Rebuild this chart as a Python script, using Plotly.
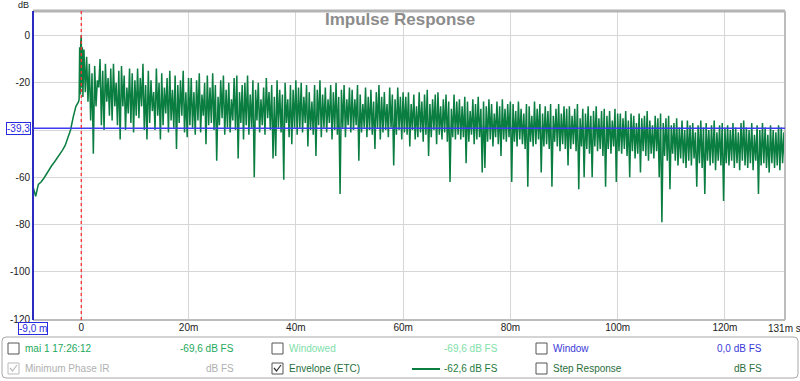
import numpy as np
import plotly.graph_objects as go

# ---------------- data ----------------
# pre-impulse rise, t = -9.0 ... -0.5 ms, step 0.5 ms
pre_vals = [-64, -68, -63, -62, -60.5, -58.5, -57, -55, -53.5, -52, -50.5, -48.5,
            -46.5, -43.5, -40, -34.5, -30, -28]
# impulse peak, fine time resolution
peak_times = [-0.4, -0.3, -0.2, -0.1, 0.0, 0.1, 0.2, 0.3, 0.4]
peak_vals = [-27, -5, -25, -3, 0, -22, -5, -26, -8]

# decay: local maxima at t = 0.5, 1.0, ... 131.0 ms
hi_vals = [
    # 0.5 - 10.0
    -6, -9, -12, -16, -13, -19, -10, -15, -12, -18, -14, -12, -20, -15, -13, -17, -22, -14, -16, -19,
    # 10.5 - 20.0
    -14, -18, -12, -21, -15, -19, -24, -14, -20, -16, -22, -18, -15, -23, -17, -21, -19, -15, -24, -18,
    # 20.5 - 30.0
    -18, -24, -19, -16, -25, -20, -17, -22, -16, -21, -26, -19, -17, -23, -20, -27, -18, -17, -24, -21,
    # 30.5 - 40.0
    -20, -17, -25, -19, -23, -20, -27, -22, -18, -24, -21, -26, -19, -23, -25, -20, -27, -21, -23, -19,
    # 40.5 - 50.0
    -22, -20, -26, -21, -24, -28, -21, -23, -19, -25, -22, -27, -21, -24, -20, -26, -23, -21, -27, -22,
    # 50.5 - 60.0
    -23, -27, -21, -25, -29, -22, -26, -23, -28, -24, -21, -26, -24, -29, -22, -25, -27, -22, -26, -24,
    # 60.5 - 70.0
    -26, -24, -29, -25, -30, -24, -28, -25, -23, -29, -27, -25, -24, -30, -27, -25, -28, -31, -25, -28,
    # 70.5 - 80.0
    -27, -30, -26, -28, -32, -27, -29, -26, -31, -28, -30, -27, -29, -33, -28, -30, -27, -31, -29, -28,
    # 80.5 - 90.0
    -29, -32, -28, -31, -33, -29, -30, -34, -28, -31, -29, -33, -30, -32, -29, -34, -31, -29, -33, -30,
    # 90.5 - 100.0
    -31, -30, -34, -31, -29, -35, -31, -33, -30, -34, -32, -30, -35, -32, -31, -34, -32, -36, -31, -33,
    # 100.5 - 110.0
    -33, -35, -32, -36, -33, -34, -37, -33, -35, -34, -32, -36, -38, -34, -35, -33, -37, -35, -34, -38,
    # 110.5 - 120.0
    -37, -35, -39, -36, -40, -36, -38, -37, -41, -38, -36, -39, -37, -40, -38, -36, -41, -38, -37, -39,
    # 120.5 - 131.0
    -38, -40, -37, -39, -41, -37, -36, -39, -40, -37, -42, -38, -40, -37, -39, -42, -38, -40, -41, -38, -39, -41,
]
# decay: local minima at t = 0.75, 1.25, ... 131.25 ms
lo_vals = [
    # 0.75 - 10.25
    -24, -28, -36, -50, -30, -22, -38, -40, -28, -34, -36, -30, -38, -44, -30, -40, -33, -37, -41, -34,
    # 10.75 - 20.25
    -35, -30, -40, -44, -37, -32, -40, -34, -44, -38, -33, -41, -36, -39, -48, -37, -34, -41, -43, -38,
    # 20.75 - 30.25
    -39, -42, -36, -41, -34, -46, -38, -37, -40, -53, -38, -35, -42, -39, -41, -36, -40, -52, -37, -44,
    # 30.75 - 40.25
    -38, -42, -39, -60, -36, -41, -38, -42, -35, -40, -52, -51, -39, -41, -61, -37, -43, -46, -39, -42,
    # 40.75 - 50.25
    -39, -41, -37, -47, -40, -42, -51, -38, -43, -39, -41, -37, -44, -40, -42, -67, -39, -43, -38, -41,
    # 50.75 - 60.25
    -40, -38, -53, -41, -39, -43, -40, -42, -48, -39, -44, -41, -40, -43, -39, -55, -42, -40, -44, -41,
    # 60.75 - 70.25
    -42, -47, -40, -44, -43, -41, -45, -42, -51, -43, -40, -46, -42, -44, -41, -45, -62, -43, -44, -42,
    # 70.75 - 80.25
    -44, -43, -54, -45, -42, -46, -44, -43, -58, -56, -45, -44, -47, -43, -46, -51, -44, -45, -43, -62,
    # 80.75 - 90.25
    -45, -47, -44, -46, -48, -64, -45, -47, -46, -44, -58, -47, -46, -48, -64, -45, -47, -49, -46, -48,
    # 90.75 - 100.25
    -55, -48, -46, -49, -65, -47, -60, -48, -50, -60, -47, -49, -48, -51, -64, -48, -50, -47, -62, -49,
    # 100.75 - 110.25
    -50, -48, -51, -60, -49, -52, -50, -58, -49, -51, -53, -50, -52, -49, -60, -79, -51, -53, -65, -50,
    # 110.75 - 120.25
    -53, -55, -52, -54, -56, -53, -55, -52, -64, -54, -56, -67, -53, -55, -54, -57, -53, -55, -70, -54,
    # 120.75 - 131.25
    -55, -53, -56, -54, -57, -53, -55, -56, -54, -57, -53, -67, -55, -54, -56, -58, -54, -56, -55, -57, -54, -58,
]

y_tick_vals = [0, -20, -40, -60, -80, -100, -120]
y_tick_text = ["0", "-20", "", "-60", "-80", "-100", "-120"]   # -40 is hidden behind the "-39,3" marker
x_tick_vals = [0, 20, 40, 60, 80, 100, 120]
x_tick_text = ["0", "20m", "40m", "60m", "80m", "100m", "120m"]
ref_level = -39.3
x_start = -9.0
x_end = 131.2

# ---------------- build series ----------------
pre_t = x_start + 0.5 * np.arange(len(pre_vals))
hi_t = 0.5 + 0.5 * np.arange(len(hi_vals))
lo_t = hi_t + 0.25
dec_t = np.empty(2 * len(hi_vals))
dec_v = np.empty(2 * len(hi_vals))
dec_t[0::2], dec_t[1::2] = hi_t, lo_t
dec_v[0::2], dec_v[1::2] = hi_vals, lo_vals
t_all = np.concatenate([pre_t, peak_times, dec_t])
v_all = np.concatenate([pre_vals, peak_vals, dec_v])

FONT = "Liberation Sans"
L, R, T, B = 33, 15, 11, 61
PW, PH = 800 - L - R, 381 - T - B


def px(x):
    return (x - L) / PW


def py(y):
    return (381 - B - y) / PH


fig = go.Figure()
fig.add_trace(go.Scatter(x=t_all, y=v_all, mode="lines",
                         line=dict(color="#0a7d40", width=1.5),
                         hoverinfo="skip"))

fig.update_layout(
    width=800, height=381,
    margin=dict(l=L, r=R, t=T, b=B, autoexpand=False),
    paper_bgcolor="white", plot_bgcolor="white",
    showlegend=False,
    font=dict(family=FONT, size=10, color="#222"),
)
fig.update_xaxes(range=[x_start, x_end], tickvals=x_tick_vals, ticktext=x_tick_text,
                 showgrid=True, gridcolor="#d6d6d6", gridwidth=1, zeroline=False,
                 showline=False, ticks="", automargin=False,
                 tickfont=dict(size=10, color="#222"))
fig.update_yaxes(range=[-120.3, 10.3], tickvals=y_tick_vals, ticktext=y_tick_text,
                 showgrid=True, gridcolor="#d6d6d6", gridwidth=1, zeroline=False,
                 showline=False, ticks="", automargin=False, ticklabelstandoff=2,
                 tickfont=dict(size=10, color="#222"))

shapes = []
# plot frame
shapes.append(dict(type="line", xref="paper", yref="paper", x0=0, x1=1, y0=1, y1=1,
                   line=dict(color="#b4b4b4", width=3)))
shapes.append(dict(type="line", xref="paper", yref="paper", x0=1, x1=1, y0=0, y1=1,
                   line=dict(color="#bcbcbc", width=2)))
shapes.append(dict(type="line", xref="paper", yref="paper", x0=0, x1=1, y0=0, y1=0,
                   line=dict(color="#bcbcbc", width=2)))
shapes.append(dict(type="line", xref="paper", yref="paper", x0=0, x1=0, y0=0, y1=1,
                   line=dict(color="#2b2bc0", width=2)))
# reference level line
shapes.append(dict(type="line", xref="paper", yref="y", x0=0, x1=1, y0=ref_level, y1=ref_level,
                   line=dict(color="#3c3cf0", width=1.5), layer="above"))
# red dotted line at t = 0
shapes.append(dict(type="line", xref="x", yref="paper", x0=0, x1=0, y0=0, y1=1,
                   line=dict(color="#ff3030", width=1.3, dash="dot"), layer="above"))


def rrect(x0, y0, x1, y1, r):
    X, Y = px, py
    return (f"M {X(x0 + r)},{Y(y0)} L {X(x1 - r)},{Y(y0)} Q {X(x1)},{Y(y0)} {X(x1)},{Y(y0 + r)} "
            f"L {X(x1)},{Y(y1 - r)} Q {X(x1)},{Y(y1)} {X(x1 - r)},{Y(y1)} "
            f"L {X(x0 + r)},{Y(y1)} Q {X(x0)},{Y(y1)} {X(x0)},{Y(y1 - r)} "
            f"L {X(x0)},{Y(y0 + r)} Q {X(x0)},{Y(y0)} {X(x0 + r)},{Y(y0)} Z")


shapes.append(dict(type="path", xref="paper", yref="paper", path=rrect(2, 337, 798, 378, 4),
                   line=dict(color="#a8a8a8", width=1), fillcolor="rgba(0,0,0,0)"))


def box(x0, y0, color):
    return dict(type="rect", xref="paper", yref="paper", x0=px(x0), x1=px(x0 + 11),
                y0=py(y0), y1=py(y0 + 11), line=dict(color=color, width=1),
                fillcolor="white")


def check(x0, y0, color):
    path = (f"M {px(x0 + 2)},{py(y0 + 5)} L {px(x0 + 4.5)},{py(y0 + 8)} "
            f"L {px(x0 + 9)},{py(y0 + 2)}")
    return dict(type="path", xref="paper", yref="paper", path=path,
                line=dict(color=color, width=1.2))


r1, r2 = 343, 363
shapes += [box(8, r1, "#555"), box(272, r1, "#555"), box(536, r1, "#555"),
           box(8, r2, "#bbbbbb"), box(272, r2, "#555"), box(536, r2, "#555")]
shapes += [check(8, r2, "#bbbbbb"), check(272, r2, "#333")]
shapes.append(dict(type="line", xref="paper", yref="paper", x0=px(412), x1=px(440),
                   y0=py(369), y1=py(369), line=dict(color="#0a7d40", width=2)))

fig.update_layout(shapes=shapes)

ann = []


def text(x, y, s, color, anchor="left", size=10, **kw):
    ann.append(dict(xref="paper", yref="paper", x=px(x), y=py(y), text=s, showarrow=False,
                    xanchor=anchor, yanchor="middle",
                    font=dict(family=FONT, size=size, color=color), **kw))


text(23, 5, "dB", "#222", anchor="center", size=9)
text(400, 20, "<b>Impulse Response</b>", "#8c8c8c", anchor="center", size=17)
text(766, 328.5, "131m s", "#222", anchor="left", size=10)
text(33, 328.5, "-9,0 m", "#2a2ae0", anchor="center", size=10,
     bordercolor="#2a2ae0", borderwidth=1, borderpad=0, bgcolor="white")
ann.append(dict(xref="paper", yref="y", x=px(18.5), y=ref_level, text="-39,3", showarrow=False,
                xanchor="center", yanchor="middle",
                font=dict(family=FONT, size=10, color="#2a2ae0"),
                bordercolor="#2a2ae0", borderwidth=1, borderpad=0, bgcolor="white"))

y1t, y2t = 348.5, 368.5
text(23, y1t, "mai 1 17:26:12", "#22a85c")
text(236, y1t, "-69,6 dB FS", "#22a85c", anchor="right")
text(287, y1t, "Windowed", "#80e0aa")
text(500, y1t, "-69,6 dB FS", "#80e0aa", anchor="right")
text(551, y1t, "Window", "#3a3ad8")
text(764, y1t, "0,0 dB FS", "#3a3ad8", anchor="right")

text(23, y2t, "Minimum Phase IR", "#b0b0b0")
text(236, y2t, "dB FS", "#b0b0b0", anchor="right")
text(287, y2t, "Envelope (ETC)", "#1f6e3c")
text(500, y2t, "-62,6 dB FS", "#1f7a40", anchor="right")
text(551, y2t, "Step Response", "#2a6e3a")
text(764, y2t, "dB FS", "#2a6e3a", anchor="right")

fig.update_layout(annotations=ann)
fig.write_html("out.html", config={"displayModeBar": False},
               post_script="document.body.style.margin='0';")
